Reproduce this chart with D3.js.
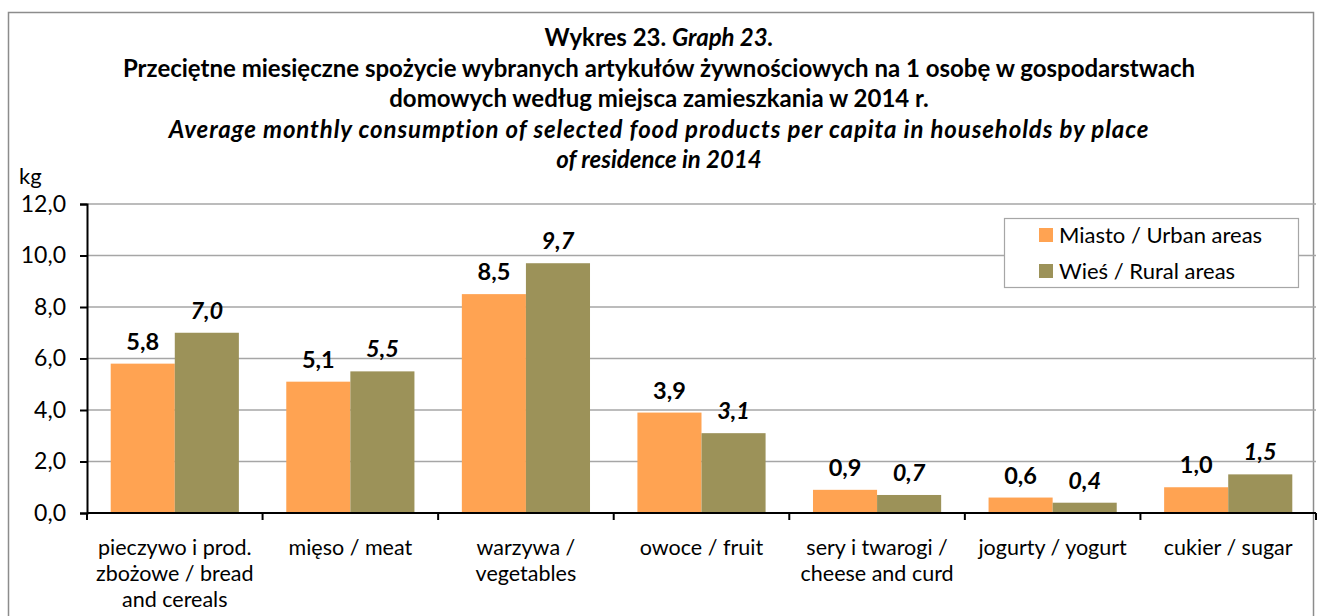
<!DOCTYPE html>
<html>
<head>
<meta charset="utf-8">
<script src="https://cdn.jsdelivr.net/npm/d3@7"></script>
<style>
  body { margin: 0; background: #fff; }
  svg { font-family: Lato, "Open Sans", sans-serif; }
</style>
</head>
<body>
<script>
// data
const categories = [
    ["pieczywo i prod.", "zbożowe / bread", "and cereals"],
    ["mięso / meat"],
    ["warzywa /", "vegetables"],
    ["owoce / fruit"],
    ["sery i twarogi /", "cheese and curd"],
    ["jogurty / yogurt"],
    ["cukier / sugar"]
]
const urban = [5.8, 5.1, 8.5, 3.9, 0.9, 0.6, 1.0]
const rural = [7.0, 5.5, 9.7, 3.1, 0.7, 0.4, 1.5]
const seriesNames = ["Miasto / Urban areas", "Wieś / Rural areas"]
const yTicks = [0, 2, 4, 6, 8, 10, 12]

const titleLines = [
    [{t: "Wykres 23. ", i: false}, {t: "Graph 23.", i: true}],
    [{t: "Przeciętne miesięczne spożycie wybranych artykułów żywnościowych na 1 osobę w gospodarstwach", i: false}],
    [{t: "domowych według miejsca zamieszkania w 2014 r.", i: false}],
    [{t: "Average monthly consumption of selected food products per capita in households by place", i: true}],
    [{t: "of residence in 2014", i: true}]
]

const W = 1320, H = 616
const colors = ["#ffa352", "#9c9259"]
const fmt = v => v.toFixed(1).replace(".", ",")

const svg = d3.select("body").append("svg")
    .attr("width", W)
    .attr("height", H)

// outer frame
svg.append("rect")
    .attr("x", 8.5).attr("y", 12.5)
    .attr("width", 1305).attr("height", 620)
    .attr("fill", "none")
    .attr("stroke", "#8c8c8c")
    .attr("stroke-width", 1.5)

// title
titleLines.forEach((line, k) => {
    let t = svg.append("text")
        .attr("x", 659).attr("y", 46 + k * 30.5)
        .attr("text-anchor", "middle")
        .attr("font-weight", "bold")
        .attr("font-size", 24)
    if (k == 3) t.attr("letter-spacing", 0.9)
    line.forEach(p => {
        t.append("tspan")
            .text(p.t)
            .attr("font-style", p.i ? "italic" : "normal")
    })
})

const margin = {left: 87, right: 1316, top: 204, bottom: 513}

const x = d3.scaleBand()
    .domain(d3.range(categories.length))
    .range([margin.left, margin.right])
    .paddingInner(0.27)
    .paddingOuter(0.135)

const x1 = d3.scaleBand()
    .domain([0, 1])
    .range([0, x.bandwidth()])

const y = d3.scaleLinear()
    .domain([0, 12])
    .range([margin.bottom, margin.top])

// grid
svg.append("g")
    .selectAll("line")
    .data(yTicks.filter(d => d > 0))
    .join("line")
    .attr("x1", margin.left).attr("x2", margin.right)
    .attr("y1", d => y(d)).attr("y2", d => y(d))
    .attr("stroke", "#a6a6a6")
    .attr("stroke-width", 1.5)

// bars
const series = [urban, rural]
series.forEach((vals, s) => {
    let g = svg.append("g")
    g.selectAll("rect")
        .data(vals)
        .join("rect")
        .attr("x", (d, i) => x(i) + x1(s))
        .attr("width", x1.bandwidth())
        .attr("y", d => y(d))
        .attr("height", d => y(0) - y(d))
        .attr("fill", colors[s])
    g.selectAll("text")
        .data(vals)
        .join("text")
        .attr("x", (d, i) => x(i) + x1(s) + x1.bandwidth() / 2)
        .attr("y", d => y(d) - 14)
        .attr("text-anchor", "middle")
        .attr("font-size", 23.5)
        .attr("font-weight", "bold")
        .attr("font-style", s == 1 ? "italic" : "normal")
        .text(fmt)
})

// y axis
const yAxis = svg.append("g")
    .attr("transform", `translate(${margin.left},0)`)
    .call(d3.axisLeft(y).tickValues(yTicks).tickFormat(fmt).tickSize(7).tickPadding(14))
yAxis.select(".domain").attr("stroke", "#000").attr("stroke-width", 2)
yAxis.selectAll(".tick line").attr("stroke", "#000").attr("stroke-width", 2)
yAxis.selectAll(".tick text")
    .attr("font-family", "Lato, sans-serif")
    .attr("font-size", 23)
    .attr("fill", "#000")

svg.append("text")
    .attr("x", 19).attr("y", 184)
    .attr("font-size", 22)
    .text("kg")

// x axis
const bounds = d3.range(categories.length + 1).map(i =>
    i < categories.length ? x(i) - x.step() * x.paddingInner() / 2 : margin.right)
svg.append("line")
    .attr("x1", margin.left).attr("x2", margin.right)
    .attr("y1", y(0)).attr("y2", y(0))
    .attr("stroke", "#000").attr("stroke-width", 2)
svg.append("g")
    .selectAll("line")
    .data(bounds)
    .join("line")
    .attr("x1", d => d).attr("x2", d => d)
    .attr("y1", y(0)).attr("y2", y(0) + 7)
    .attr("stroke", "#000").attr("stroke-width", 2)

let catLabels = svg.append("g")
    .selectAll("text")
    .data(categories)
    .join("text")
    .attr("text-anchor", "middle")
    .attr("font-size", 21.5)
catLabels.each(function (lines, i) {
    d3.select(this).selectAll("tspan")
        .data(lines)
        .join("tspan")
        .attr("x", x(i) + x.bandwidth() / 2)
        .attr("y", (l, k) => 555 + k * 26)
        .text(l => l)
})

// legend
let legend = svg.append("g").attr("transform", "translate(1004,218)")
legend.append("rect")
    .attr("x", 0.5).attr("y", 0.5)
    .attr("width", 294).attr("height", 69)
    .attr("fill", "#fff")
    .attr("stroke", "#a6a6a6")
    .attr("stroke-width", 1.2)
seriesNames.forEach((n, i) => {
    legend.append("rect")
        .attr("x", 35).attr("y", 10 + i * 36)
        .attr("width", 14).attr("height", 14)
        .attr("fill", colors[i])
    legend.append("text")
        .attr("x", 55).attr("y", 25 + i * 36)
        .attr("font-size", 22)
        .text(n)
})
</script>
</body>
</html>
